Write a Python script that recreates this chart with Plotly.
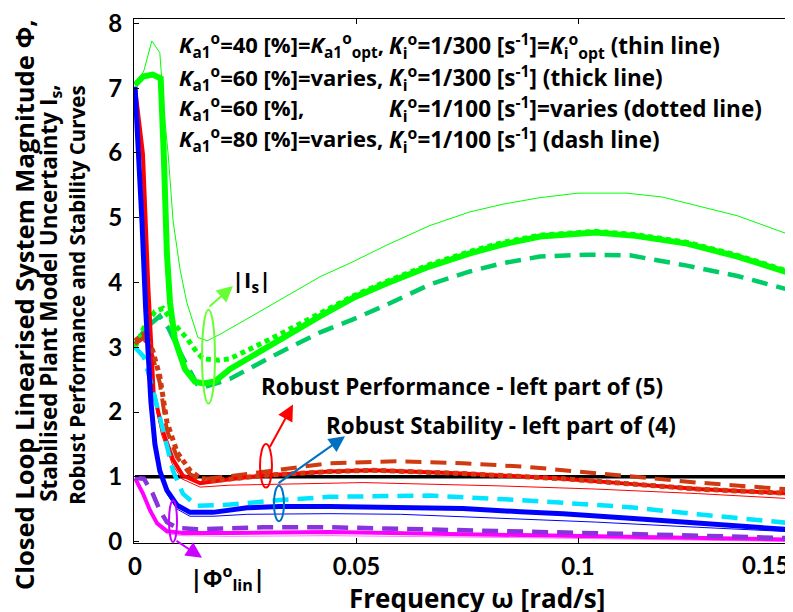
import plotly.graph_objects as go

# ---------------- data ----------------
# |Is| curves (green)
is_thin_x = [0, 0.002, 0.0038, 0.0056, 0.0066, 0.0075, 0.0086, 0.0102, 0.0117, 0.0129, 0.0142, 0.0163,
             0.0192, 0.0289, 0.0366, 0.0418, 0.0492, 0.0569, 0.0666, 0.0756, 0.0831, 0.0914, 0.1, 0.111,
             0.119, 0.136, 0.1485]
is_thin_y = [7.02, 7.27, 7.73, 7.55, 6.6, 5.97, 4.95, 4.19, 3.69, 3.43, 3.15, 3.10,
             3.20, 3.58, 3.88, 4.09, 4.32, 4.58, 4.88, 5.09, 5.21, 5.31, 5.38, 5.38,
             5.32, 5.03, 4.72]

is_thick_x = [0, 0.0018, 0.004, 0.0058, 0.0065, 0.0072, 0.0079, 0.009, 0.0113, 0.0135, 0.0154, 0.018,
              0.0214, 0.0327, 0.0418, 0.0492, 0.0569, 0.0666, 0.0756, 0.0831, 0.0914, 0.104, 0.113,
              0.1246, 0.136, 0.1485]
is_thick_y = [7.05, 7.18, 7.21, 7.15, 5.97, 4.45, 3.69, 3.12, 2.66, 2.47, 2.44, 2.47,
              2.66, 3.12, 3.48, 3.76, 3.99, 4.25, 4.45, 4.59, 4.71, 4.77, 4.72,
              4.60, 4.40, 4.13]

is_dot_x = [0, 0.002, 0.0045, 0.0063, 0.0086, 0.0117, 0.014, 0.0154, 0.019, 0.0214, 0.0327, 0.044,
            0.0492, 0.0569, 0.0666, 0.0756, 0.0831, 0.0914, 0.104, 0.113, 0.1246, 0.136, 0.1485]
is_dot_y = [3.0, 3.3, 3.55, 3.6, 3.38, 3.14, 2.92, 2.82, 2.80, 2.82, 3.2, 3.6,
            3.79, 4.02, 4.28, 4.48, 4.62, 4.73, 4.79, 4.74, 4.62, 4.42, 4.15]

is_dash_x = [0, 0.0025, 0.0056, 0.0075, 0.0102, 0.0125, 0.014, 0.0155, 0.0214, 0.0327, 0.0418,
             0.0492, 0.0569, 0.0666, 0.0756, 0.0831, 0.0914, 0.102, 0.1117, 0.1246, 0.136, 0.1485]
is_dash_y = [3.05, 3.3, 3.48, 3.3, 2.92, 2.6, 2.43, 2.38, 2.51, 2.92, 3.23,
             3.43, 3.66, 3.97, 4.17, 4.30, 4.40, 4.43, 4.42, 4.26, 4.10, 3.87]

# Robust performance curves (red)
rp_thick_x = [0, 0.0018, 0.003, 0.0042, 0.0063, 0.0086, 0.0108, 0.0147, 0.0214, 0.0289, 0.044,
              0.0537, 0.074, 0.0966, 0.1117, 0.127, 0.1485]
rp_thick_y = [7.02, 5.98, 3.95, 2.3, 1.70, 1.26, 1.02, 0.90, 0.96, 1.02, 1.08,
              1.10, 1.05, 0.97, 0.89, 0.81, 0.74]

rp_thin_x = [0, 0.0016, 0.0028, 0.004, 0.006, 0.0084, 0.0105, 0.0147, 0.0214, 0.0515, 0.0817,
             0.104, 0.127, 0.1485]
rp_thin_y = [7.02, 5.98, 3.95, 2.3, 1.65, 1.2, 0.97, 0.84, 0.87, 0.91, 0.86,
             0.81, 0.74, 0.66]

rp_dot_x = [0, 0.002, 0.004, 0.0056, 0.0072, 0.0095, 0.0124, 0.0147, 0.018, 0.0214, 0.0289, 0.044,
            0.0537, 0.074, 0.0966, 0.1117, 0.127, 0.1485]
rp_dot_y = [3.1, 3.2, 2.95, 2.55, 1.85, 1.38, 1.10, 0.98, 0.94, 0.96, 1.02, 1.08,
            1.10, 1.05, 0.97, 0.89, 0.81, 0.74]

rp_dash_x = [0, 0.002, 0.004, 0.0056, 0.0072, 0.0095, 0.0124, 0.0147, 0.0214, 0.044, 0.059, 0.074,
             0.089, 0.104, 0.1156, 0.127, 0.1485]
rp_dash_y = [3.05, 3.15, 2.85, 2.45, 1.72, 1.30, 1.04, 0.96, 1.01, 1.21, 1.24, 1.21,
             1.15, 1.06, 0.98, 0.91, 0.80]

# Robust stability curves (blue)
rs_thick_x = [0, 0.0008, 0.0016, 0.0024, 0.003, 0.0036, 0.0045, 0.0056, 0.0072, 0.0095, 0.0124,
              0.0176, 0.0253, 0.0327, 0.044, 0.074, 0.087, 0.0966, 0.1117, 0.127, 0.1485]
rs_thick_y = [7.02, 6.0, 4.9, 3.6, 2.8, 2.15, 1.5, 1.09, 0.79, 0.56, 0.45,
              0.45, 0.52, 0.54, 0.54, 0.51, 0.46, 0.43, 0.36, 0.29, 0.18]

rs_thin_x = [0, 0.0008, 0.0016, 0.0024, 0.003, 0.0036, 0.0045, 0.0056, 0.0072, 0.0095, 0.0124,
             0.0176, 0.0253, 0.044, 0.06, 0.087, 0.104, 0.127, 0.1485]
rs_thin_y = [7.02, 6.0, 4.9, 3.6, 2.8, 2.15, 1.48, 1.05, 0.74, 0.50, 0.39,
             0.39, 0.42, 0.43, 0.42, 0.34, 0.30, 0.22, 0.15]

rs_dash_x = [0, 0.002, 0.004, 0.0063, 0.0086, 0.0108, 0.014, 0.0214, 0.0327, 0.044, 0.0666,
             0.087, 0.1117, 0.127, 0.1485]
rs_dash_y = [3.0, 2.85, 2.36, 1.70, 1.09, 0.74, 0.55, 0.57, 0.64, 0.69, 0.71,
             0.64, 0.53, 0.42, 0.28]

# |Phi_lin| curves (magenta / purple)
ph_thick_x = [0, 0.0018, 0.0034, 0.005, 0.0072, 0.0108, 0.0214, 0.044, 0.087, 0.12, 0.1485]
ph_thick_y = [0.98, 0.74, 0.48, 0.28, 0.16, 0.13, 0.13, 0.145, 0.10, 0.07, 0.03]

ph_thin_x = [0, 0.0018, 0.0034, 0.005, 0.0072, 0.0108, 0.0214, 0.044, 0.087, 0.12, 0.1485]
ph_thin_y = [0.98, 0.72, 0.45, 0.25, 0.12, 0.09, 0.08, 0.09, 0.06, 0.03, 0.0]

ph_dash_x = [0, 0.002, 0.004, 0.0056, 0.0072, 0.0095, 0.014, 0.0289, 0.044, 0.0515, 0.082,
             0.109, 0.127, 0.1485]
ph_dash_y = [0.98, 0.97, 0.74, 0.48, 0.30, 0.21, 0.19, 0.22, 0.22, 0.21, 0.16,
             0.12, 0.09, 0.05]

unity_x = [0, 0.1485]
unity_y = [1, 1]

x_ticks = [0, 0.05, 0.1]
x_ticktext = ["0", "0.05", "0.1"]
y_ticks = [0, 1, 2, 3, 4, 5, 6, 7, 8]

# ---------------- figure ----------------
TFONT = "Lato"
FONT = "Open Sans"
fig = go.Figure()

def add(x, y, color, width, dash="solid"):
    fig.add_trace(go.Scatter(x=x, y=y, mode="lines", showlegend=False,
                             line=dict(color=color, width=width, dash=dash)))

GREEN = "#00ff00"
TEAL = "#00cc66"
RED = "#ff0000"
DRED = "#d03a10"
BLUE = "#0000ff"
CYAN = "#00e5ff"
MAG = "#ff00ff"
PURP = "#8833dd"
DASH = "16px,9px"
DOT = "5px,4px"

add(unity_x, unity_y, "black", 3.5)
add(is_thin_x, is_thin_y, GREEN, 1)
add(is_dash_x, is_dash_y, TEAL, 4.5, DASH)
add(is_thick_x, is_thick_y, GREEN, 6)
add(is_dot_x, is_dot_y, GREEN, 5, DOT)
add(rp_thin_x, rp_thin_y, RED, 1)
add(rp_dash_x, rp_dash_y, DRED, 4, DASH)
add(rp_thick_x, rp_thick_y, RED, 4)
add(rp_dot_x, rp_dot_y, DRED, 5, DOT)
add(rs_dash_x, rs_dash_y, CYAN, 4.5, DASH)
add(rs_thin_x, rs_thin_y, BLUE, 1)
add(rs_thick_x, rs_thick_y, BLUE, 5)
add(ph_thin_x, ph_thin_y, "#ff77ff", 1)
add(ph_thick_x, ph_thick_y, MAG, 4)
add(ph_dash_x, ph_dash_y, PURP, 4.5, DASH)

tickfont = dict(family=TFONT, size=24, color="black", weight="bold")
fig.update_xaxes(range=[-0.000226, 0.14853], tickvals=x_ticks, ticktext=x_ticktext,
                 ticks="inside", ticklen=5, tickcolor="black", showline=True,
                 linecolor="black", linewidth=1, mirror="ticks", showgrid=False,
                 zeroline=False, tickfont=tickfont, ticklabelstandoff=2,
                 ticklabeloverflow="allow")
fig.update_yaxes(range=[-0.023, 8.069], tickvals=y_ticks, ticks="inside", ticklen=5,
                 tickcolor="black", showline=True, linecolor="black", linewidth=1,
                 showgrid=False, zeroline=False, tickfont=tickfont, ticklabelstandoff=6,
                 ticklabeloverflow="allow")

def txt(x, y, s, size, xanchor="center", angle=0, yanchor="middle", family=FONT):
    fig.add_annotation(x=x, y=y, xref="paper", yref="paper", text=s, showarrow=False,
                       xanchor=xanchor, yanchor=yanchor, textangle=angle,
                       font=dict(family=family, size=size, color="black", weight="bold"))

K = "<i>K</i>"
ka = K + "<sub>a1</sub><sup>o</sup>"
ki = K + "<sub>i</sub><sup>o</sup>"
s1 = "[s<sup>-1</sup>]"
left_lines = [ka + "=40 [%]=" + ka + "<sub>opt</sub>,",
              ka + "=60 [%]=varies,",
              ka + "=60 [%],",
              ka + "=80 [%]=varies,"]
right_lines = [ki + "=1/300 " + s1 + "=" + ki + "<sub>opt</sub> (thin line)",
               ki + "=1/300 " + s1 + " (thick line)",
               ki + "=1/100 " + s1 + "=varies (dotted line)",
               ki + "=1/100 " + s1 + " (dash line)"]
line_y = [0.949, 0.8868, 0.8283, 0.7698]
for s, yy in zip(left_lines, line_y):
    txt(0.065, yy, s, 22, xanchor="left")
for s, yy in zip(right_lines, line_y):
    txt(0.384, yy, s, 22.5, xanchor="left")

txt(0.4977, 0.2981, "Robust Performance - left part of (5)", 22.4)
txt(0.5569, 0.2245, "Robust Stability - left part of (4)", 22.4)
txt(0.179, 0.50, "|I<sub>s</sub>|", 22)
txt(0.1426, -0.066, "|Φ<sup>o</sup><sub>lin</sub>|", 23)
txt(0.959, -0.0415, "0.15", 24, family=TFONT)
txt(0.5205, -0.1045, "Frequency ω [rad/s]", 26)

txt(-0.168, 0.4547, "Closed Loop Linearised System Magnitude Φ,", 25.5, angle=-90)
txt(-0.1275, 0.4774, "Stabilised Plant Model Uncertainty I<sub>s</sub>,", 22.5, angle=-90)
txt(-0.0865, 0.4736, "Robust Performance and Stability Curves", 20.5, angle=-90)

def arrow(tx, ty, ax, ay, color):
    fig.add_annotation(x=tx, y=ty, xref="paper", yref="paper", ax=ax, ay=ay, text="",
                       showarrow=True, arrowhead=2, arrowsize=1.6, arrowwidth=2,
                       arrowcolor=color, standoff=0)

arrow(0.1502, 0.4906, -25, 22, "#66ff33")
arrow(0.2413, 0.2642, -24, 44, RED)
arrow(0.3202, 0.2038, -68, 48, "#0070c0")
arrow(0.1032, -0.0283, -27, -18, "#cc00ff")

def ellipse(x0, x1, y0, y1, color):
    fig.add_shape(type="circle", xref="paper", yref="paper", x0=x0, x1=x1, y0=y0, y1=y1,
                  line=dict(color=color, width=2))

ellipse(0.1032, 0.1229, 0.266, 0.4453, "#66ff33")
ellipse(0.1912, 0.2094, 0.1057, 0.1887, RED)
ellipse(0.2124, 0.2276, 0.0415, 0.1094, "#0070c0")
ellipse(0.0531, 0.0653, 0.0019, 0.0811, "#cc00ff")

# the page adds an 8px body margin, so the figure is 8px smaller than the window
fig.update_layout(width=785, height=604, margin=dict(l=126, r=0, t=5, b=69),
                  plot_bgcolor="white", paper_bgcolor="white")
fig.write_html("out.html")
